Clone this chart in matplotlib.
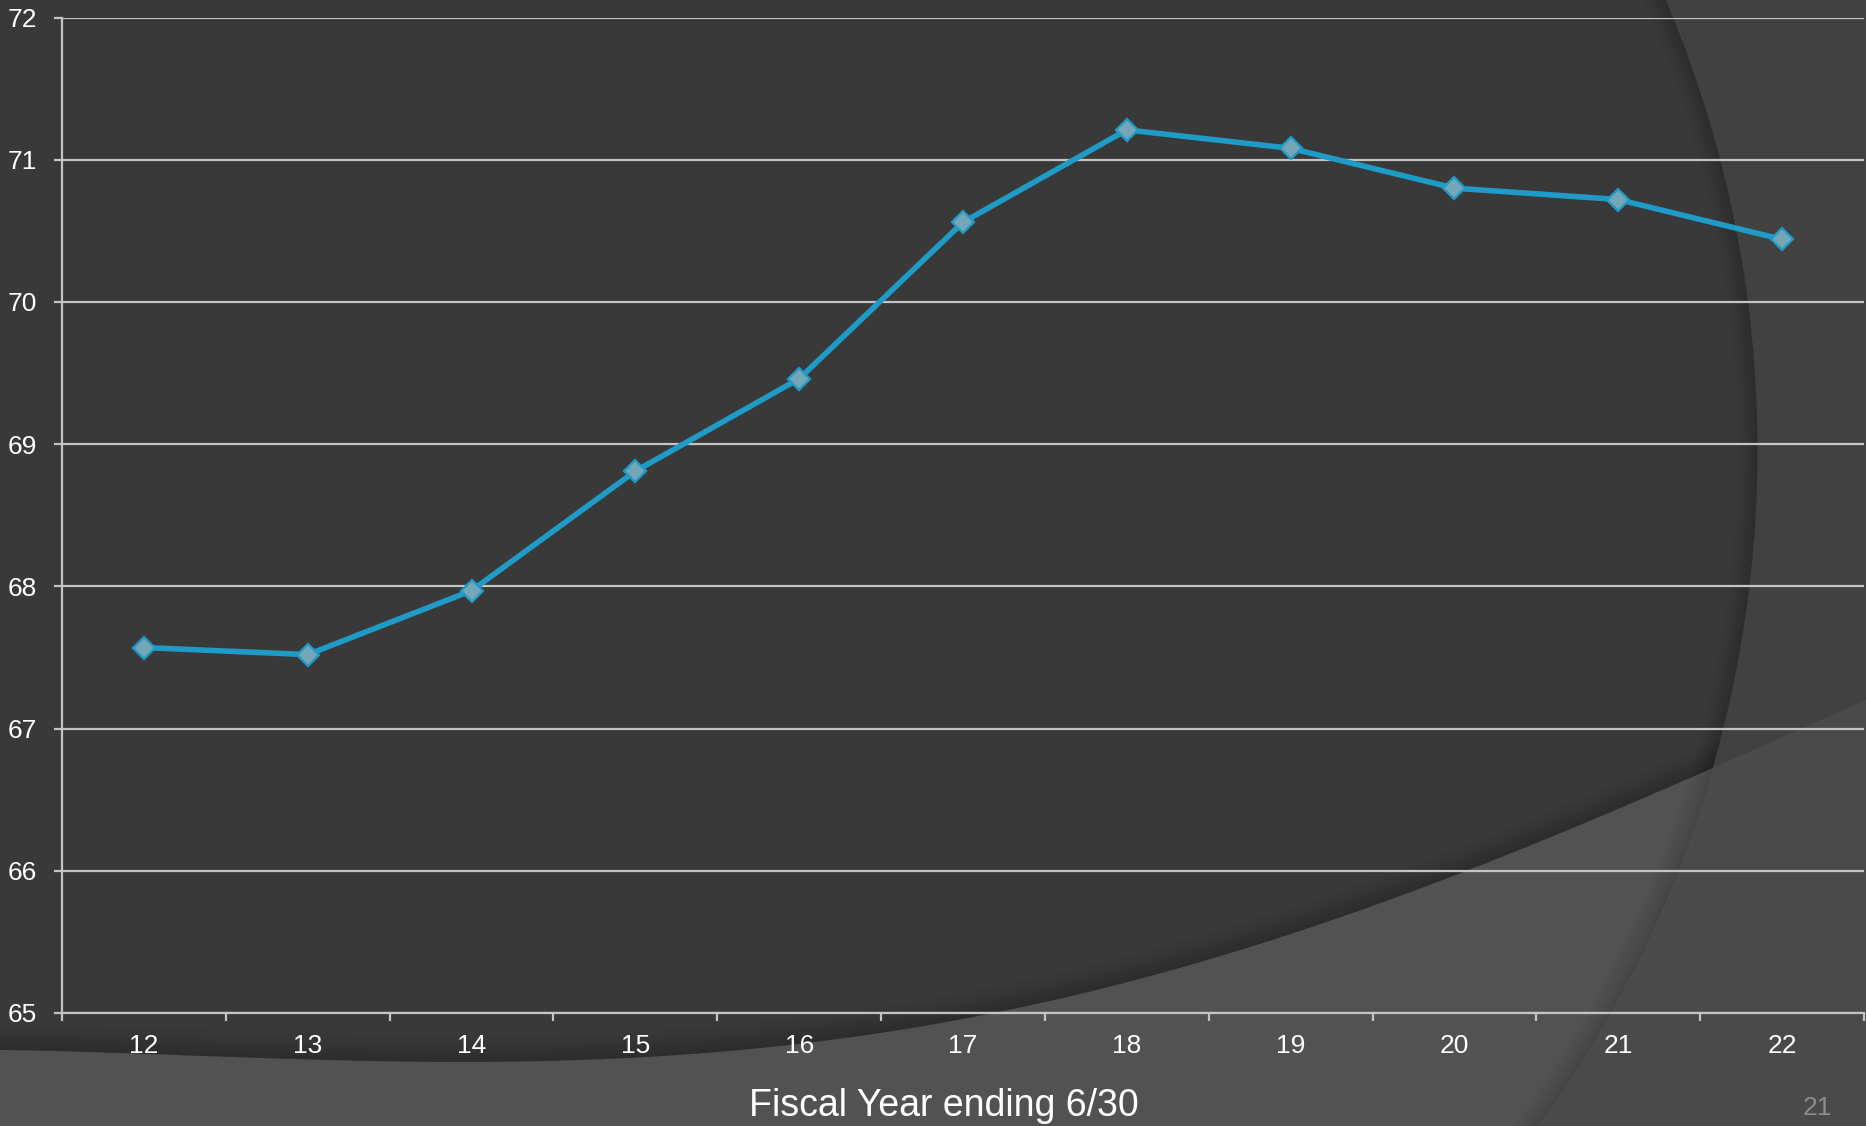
import numpy as np
import matplotlib
matplotlib.use('Agg')
import matplotlib.pyplot as plt
from matplotlib.patches import Circle, Wedge, Rectangle, Polygon

plt.rcParams['font.family'] = ['Liberation Sans', 'DejaVu Sans']

# fiscal years (two digit) and values
years = [12, 13, 14, 15, 16, 17, 18, 19, 20, 21, 22]
values = [67.57, 67.52, 67.97, 68.81, 69.46, 70.56, 71.21, 71.08, 70.80, 70.72, 70.44]
yticks = [65, 66, 67, 68, 69, 70, 71, 72]

W, H = 1866, 1126
fig = plt.figure(figsize=(W / 100, H / 100), dpi=100)

# slide background, drawn in pixel coordinates
bg = fig.add_axes([0, 0, 1, 1], zorder=-1)
bg.set_xlim(0, W)
bg.set_ylim(H, 0)
bg.axis('off')

ring_c, ring_r = (609.5, 450.0), 1148.0      # big circle on the right
# edge of the lighter band at the bottom (pixel guide points)
edge_x = [0, 416, 714, 833, 994, 1190, 1272, 1392, 1866]
edge_y = [1050, 1061, 1053, 1040, 1013, 963, 940, 900, 700]
poly = np.polyfit(edge_x, edge_y, 4)
cx = np.linspace(0, W, 240)
cy = np.polyval(poly, cx)
band_xy = np.column_stack([np.r_[cx, W, 0], np.r_[cy, H, H]])

bg.add_patch(Rectangle((0, 0), W, H, color='#414141', lw=0))
bg.add_patch(Polygon(band_xy, closed=True, color='#4a4a4a', lw=0))
inner = Circle(ring_c, ring_r, color='#393939', lw=0)
bg.add_patch(inner)
band_in = Polygon(band_xy, closed=True, color='#525252', lw=0)
bg.add_patch(band_in)
band_in.set_clip_path(inner)

# soft shadows along the edges
for w in [3, 6, 9, 12, 16, 20]:
    bg.add_patch(Wedge(ring_c, ring_r, 0, 360, width=w, color='black', alpha=0.025, lw=0))
    sh = bg.fill_between(cx, cy - w * 1.3, cy, color='black', alpha=0.03, lw=0)
    sh.set_clip_path(inner)

# chart
ax = fig.add_axes([62 / W, 1 - 1013 / H, (1864 - 62) / W, (1013 - 17.5) / H])
ax.patch.set_alpha(0)

ax.plot(years, values, color='#1f9bc7', lw=4, marker='D', markersize=11,
        markerfacecolor='#73a6b6', markeredgecolor='#1f9bc7', markeredgewidth=1.6,
        zorder=3)

ax.set_xlim(years[0] - 0.5, years[-1] + 0.5)
ax.set_ylim(yticks[0], yticks[-1])

gridc = '#c4c4c4'
ax.set_yticks(yticks)
ax.set_yticklabels([str(t) for t in yticks])
ax.yaxis.grid(True, color=gridc, lw=1.6)
ax.set_axisbelow(True)

ax.set_xticks(np.arange(years[0] - 0.5, years[-1] + 1, 1))
ax.set_xticklabels([])
ax.set_xticks(years, minor=True)
ax.set_xticklabels([str(y) for y in years], minor=True)

ax.tick_params(axis='x', which='major', direction='out', length=6, width=1.6, color=gridc)
ax.tick_params(axis='x', which='minor', length=0, pad=15, labelsize=19, labelcolor='white')
ax.tick_params(axis='y', direction='out', length=6, width=1.6, color=gridc,
               pad=12, labelsize=19, labelcolor='white')

for side in ['top', 'right']:
    ax.spines[side].set_visible(False)
for side in ['left', 'bottom']:
    ax.spines[side].set_color(gridc)
    ax.spines[side].set_linewidth(1.6)

fig.text(944 / W, 1 - 1116 / H, 'Fiscal Year ending 6/30', color='white',
         fontsize=27, ha='center', va='baseline')
fig.text(1817 / W, 1 - 1115 / H, '21', color='#8c8c8c', fontsize=19,
         ha='center', va='baseline')

fig.savefig('out.png', dpi=100)
